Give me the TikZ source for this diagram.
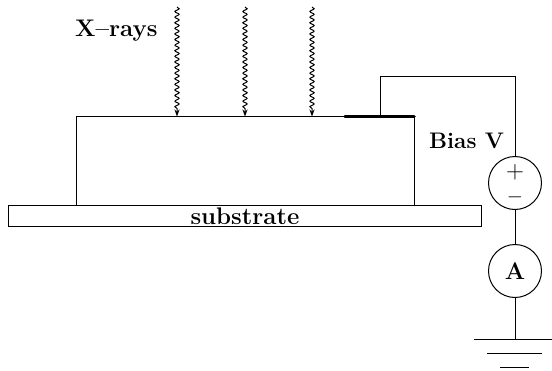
\documentclass[tikz,border=0pt]{standalone}
\usetikzlibrary{decorations.pathmorphing,arrows.meta,calc}
\tikzset{
  wire/.style={draw=black,line width=1pt},
  meter/.style={circle,draw=black,line width=1pt,minimum size=53pt,inner sep=0pt,fill=white},
  xray/.style={draw=black,line width=1pt,-{Stealth[length=7pt,width=5pt]},
    decorate,decoration={snake,segment length=5.6pt,amplitude=2.1pt,post length=6pt,pre length=0pt}},
  lab/.style={font=\fontsize{24}{26}\selectfont\bfseries,inner sep=0pt,text=black}
}
\begin{document}
\begin{tikzpicture}[x=1pt,y=-1pt]
\useasboundingbox (0,0) rectangle (552,370);
\node[wire,draw,minimum width=338pt,minimum height=89pt,inner sep=0pt,anchor=north west] (det) at (76,116) {};
\node[wire,draw,minimum width=473pt,minimum height=21pt,inner sep=0pt,anchor=north west] (sub) at (8,205) {};
\node[lab,anchor=base] (sublab) at (245,224.5) {substrate};
\node[lab,anchor=base west] (xlab) at (75,36) {X--rays};
\node[lab,anchor=base west,font=\fontsize{22.5}{26}\selectfont\bfseries] (blab) at (429,148) {Bias V};
\coordinate (el1) at (345,116.5);
\coordinate (el2) at (414,116.5);
\coordinate (tap) at (380,116);
\coordinate (c1) at (380,76);
\coordinate (c2) at (515,76);
\node[meter] (bias) at (515,183) {};
\node[meter,font=\fontsize{24}{26}\selectfont\bfseries] (amm) at (515,271) {A};
\node[inner sep=0pt,font=\fontsize{25}{28}\selectfont\bfseries,anchor=center] (plus) at (515,172) {$\mathbf{+}$};
\node[inner sep=0pt,font=\fontsize{20}{20}\selectfont,anchor=center] (minus) at (515,197) {$-$};
\draw[line width=3.6pt,line cap=round] (el1) -- (el2);
\draw[wire] (tap) -- (c1) -- (c2) -- (bias.north);
\draw[wire] (bias.south) -- (amm.north);
\coordinate (g0) at (515,339);
\draw[wire] (amm.south) -- (g0);
\coordinate (g1a) at (474,339); \coordinate (g1b) at (556,339);
\coordinate (g2a) at (487,353); \coordinate (g2b) at (542,353);
\coordinate (g3a) at (500,367); \coordinate (g3b) at (529,367);
\draw[wire] (g1a) -- (g1b);
\draw[wire] (g2a) -- (g2b);
\draw[wire] (g3a) -- (g3b);
\foreach \n/\x in {a/177,b/245,c/312}{
  \coordinate (s\n) at (\x,7);
  \coordinate (e\n) at (\x,116.5);
  \draw[xray] (s\n) -- (e\n);
}
\end{tikzpicture}
\end{document}
